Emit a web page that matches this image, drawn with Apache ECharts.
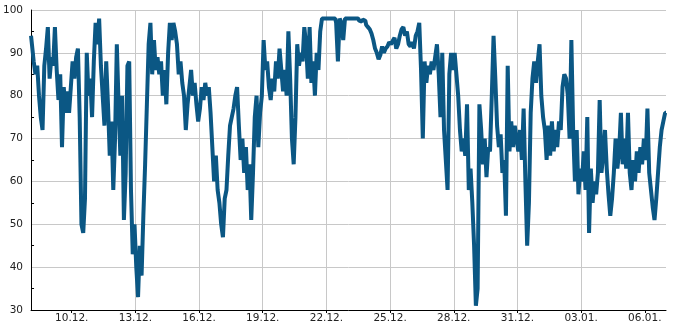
<!DOCTYPE html>
<html>
<head>
<meta charset="utf-8">
<script src="https://cdn.jsdelivr.net/npm/echarts@6/dist/echarts.min.js"></script>
<style>
html,body{margin:0;padding:0;background:#fff;}
#chart{width:685px;height:330px;}
</style>
</head>
<body>
<div id="chart"></div>
<script>
// Series start (08.12. 02:00) and sampling step (2 hours)
const startTime = Date.UTC(2023, 11, 8, 2, 0);
const stepHours = 2;

// Values, one per 2-hour step
const valuesA = [94,92,88,85,87,80,75,72,87,91,96,84,89,87,96,86,79,85,68,82,76,81,76,82,88,84,89,91,75,50,48,56,90,80,84,75,88,97,92,98,87,80,73,88,78,66,74,58,70,92,78,66,80,51,62,87,88,58,43,50];
const valuesB = [40,33,45,38,52,64,78,92,97,85,93,86,89,85,88,80,86,78,90,97,93,97,95,92,85,88,83,80,72,78,82,86,80,83,78,74,77,82,79,83,80,82,76,68,60,66,58,55,50,47,56,58,66,73,75,77,80,82,73,65];
const valuesC = [70,62,68,58,64,51,62,75,80,68,76,80,93,86,88,82,79,84,81,88,84,91,86,81,86,80,95,84,70,64,75,92,87,90,88,96,92,84,96,83,88,80,90,86,95,98,98,98,98,98,98,98,98,97,88,98,97,93,98,98];
const valuesD = [98,98,98,98,98,98,97.5,97.3,97.8,97.5,96.5,96,95.5,94.5,93,91,90,88.5,89.5,91.5,90,91,91.5,92.5,92,92.8,93.5,91,92,94,95.5,96,94,95,92,91.5,92.5,91,94,95,97,86,70,88,83,87,85,88,86,89,92,85,75,90,72,65,58,85,90,86];
const valuesE = [90,85,80,72,67,70,66,78,58,63,55,45,31,35,78,72,64,70,61,68,67,80,94,84,73,68,71,62,65,52,87,67,74,68,73,70,67,72,65,77,60,45,55,76,84,88,83,88,92,80,75,72,65,73,66,74,67,72,68,74];
const valuesF = [72,82,85,84,80,70,93,72,60,72,57,63,60,67,58,75,48,63,55,60,57,62,79,62,66,72,63,57,52,56,62,70,63,67,76,64,70,63,76,62,58,65,60,67,62,68,64,70,65,77,62,58,54,51,56,62,68,72,74,76];

// Tick dates on the x axis
const tickDates = ['2023-12-10','2023-12-13','2023-12-16','2023-12-19','2023-12-22','2023-12-25','2023-12-28','2023-12-31','2024-01-03','2024-01-06'];

// Y axis range
const yMin = 30, yMax = 100, yStep = 10;

const values = [].concat(valuesA, valuesB, valuesC, valuesD, valuesE, valuesF);
const H = 3600 * 1000;
const data = values.map((v, i) => [startTime + i * stepHours * H, v]);
const tickValues = tickDates.map(d => Date.parse(d + 'T00:00:00Z'));
const pad = n => (n < 10 ? '0' : '') + n;
const fmt = v => { const d = new Date(v); return pad(d.getUTCDate()) + '.' + pad(d.getUTCMonth() + 1) + '.'; };

const chart = echarts.init(document.getElementById('chart'), null, {renderer: 'canvas'});
const font = {color: '#222', fontSize: 10.5, fontFamily: 'DejaVu Sans'};
chart.setOption({
  animation: false,
  backgroundColor: '#fff',
  grid: {left: 30, right: 19, top: 10, bottom: 20, containLabel: false},
  xAxis: {
    type: 'value',
    min: startTime,
    max: startTime + (values.length - 1) * stepHours * H,
    axisLine: {show: true, onZero: false, lineStyle: {color: '#000', width: 1}},
    axisTick: {show: true, inside: false, length: 3, customValues: tickValues, lineStyle: {color: '#000'}},
    axisLabel: Object.assign({show: true, margin: 3, customValues: tickValues, formatter: fmt}, font),
    splitLine: {show: true, showMinLine: false, showMaxLine: false, lineStyle: {color: '#c8c8c8', width: 1}}
  },
  yAxis: {
    type: 'value',
    min: yMin, max: yMax, interval: yStep,
    axisLine: {show: true, lineStyle: {color: '#000', width: 1}},
    axisTick: {show: false, inside: true, length: 3},
    minorTick: {show: true, splitNumber: 2, length: 3, lineStyle: {color: '#000'}},
    axisLabel: Object.assign({margin: 8}, font),
    splitLine: {show: true, lineStyle: {color: '#c8c8c8', width: 1}},
    minorSplitLine: {show: false}
  },
  series: [{
    type: 'line',
    data: data,
    step: 'middle',
    showSymbol: false,
    symbol: 'none',
    lineStyle: {color: '#0b5784', width: 4, join: 'bevel', cap: 'butt'},
    z: 3
  }]
});
</script>
</body>
</html>
